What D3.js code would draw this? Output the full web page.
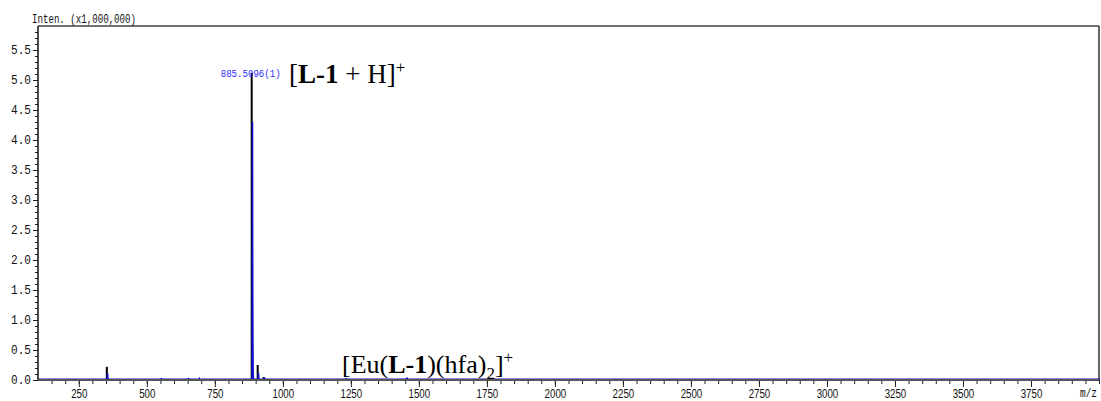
<!DOCTYPE html>
<html>
<head>
<meta charset="utf-8">
<script src="https://cdn.jsdelivr.net/npm/d3@7"></script>
<style>
  html, body { margin: 0; padding: 0; background: #fff; }
  svg { display: block; }
</style>
</head>
<body>
<svg id="chart" width="1101" height="401"></svg>
<script>
// Mass spectrum: intensity (x1,000,000) versus m/z
const mzDomain = [100, 4000];
const intDomain = [0, 5.9];

// Centroid peaks (black sticks)
const centroidMz  = [353.0, 885.5096, 907.5, 929.5, 1454.0];
const centroidInt = [0.22, 5.12, 0.25, 0.05, 0.03];

// Profile trace (blue), including isotope peaks and small baseline features
const profileMz  = [100, 351.5, 352.5, 353.0, 353.5, 354.5, 549, 550, 551, 649, 650, 651, 689, 690, 691,
                    884.0, 885.0, 885.5, 886.0, 886.5, 887.0, 887.5, 888.0, 889.0,
                    906.5, 907.5, 908.5, 928.5, 929.5, 930.5, 1230, 1231, 1232, 1453, 1454, 1455, 4000];
const profileInt = [0.01, 0.01, 0.05, 0.11, 0.05, 0.01, 0.01, 0.03, 0.01, 0.01, 0.03, 0.01, 0.01, 0.02, 0.01,
                    0.01, 2.10, 4.30, 2.00, 1.25, 0.60, 0.33, 0.10, 0.01,
                    0.01, 0.12, 0.01, 0.01, 0.04, 0.01, 0.01, 0.03, 0.01, 0.01, 0.04, 0.01, 0.01];

// Axis ticks
const xMajorTicks = [250, 500, 750, 1000, 1250, 1500, 1750, 2000, 2250, 2500, 2750, 3000, 3250, 3500, 3750];
const yMajorTicks = [0.0, 0.5, 1.0, 1.5, 2.0, 2.5, 3.0, 3.5, 4.0, 4.5, 5.0, 5.5];

const peakLabel = "885.5096(1)";

const svg = d3.select("#chart");
const plotLeft = 38, plotRight = 1099, plotTop = 26, plotBottom = 380;

const x = d3.scaleLinear().domain(mzDomain).range([plotLeft, plotRight]);
const y = d3.scaleLinear().domain(intDomain).range([plotBottom, plotTop]);

const monoFont = "'Liberation Mono', 'DejaVu Sans Mono', monospace";
const narrowFont = "'Liberation Sans Narrow', 'Liberation Sans', Arial, sans-serif";
const serifFont = "'Liberation Serif', 'Times New Roman', serif";

// Frame: top and right borders
svg.append("line").attr("x1", plotLeft).attr("x2", plotRight).attr("y1", plotTop).attr("y2", plotTop)
  .attr("stroke", "#707070").attr("stroke-width", 2);
svg.append("line").attr("x1", plotRight).attr("x2", plotRight).attr("y1", plotTop).attr("y2", plotBottom)
  .attr("stroke", "#333").attr("stroke-width", 1.5);

// Y axis: major ticks every 0.5, minor every 0.1
const yMinor = d3.range(0, 59).map(i => i / 10);
const yAxisMinor = d3.axisLeft(y).tickValues(yMinor).tickSize(3).tickFormat("");
const yAxisMajor = d3.axisLeft(y).tickValues(yMajorTicks).tickSize(5).tickPadding(2)
  .tickFormat(d3.format(".1f"));

const gyMinor = svg.append("g").attr("transform", `translate(${plotLeft},0)`).call(yAxisMinor);
gyMinor.select(".domain").remove();
gyMinor.selectAll("line").attr("stroke", "#222");

const gy = svg.append("g").attr("transform", `translate(${plotLeft},0)`).call(yAxisMajor);
gy.select(".domain").remove();
gy.selectAll("line").attr("stroke", "#222");
gy.selectAll("text").attr("font-family", monoFont).attr("font-size", 12).attr("fill", "#111")
  .attr("textLength", 20).attr("lengthAdjust", "spacingAndGlyphs");

svg.append("line").attr("x1", plotLeft).attr("x2", plotLeft).attr("y1", plotTop).attr("y2", plotBottom + 1)
  .attr("stroke", "#111").attr("stroke-width", 1.5);

// X axis: major ticks every 250, minor every 50
const xMinor = d3.range(150, 4001, 50);
const xAxisMinor = d3.axisBottom(x).tickValues(xMinor).tickSize(4).tickFormat("");
const xAxisMajor = d3.axisBottom(x).tickValues(xMajorTicks).tickSize(7).tickPadding(2).tickFormat(d3.format("d"));

const gxMinor = svg.append("g").attr("transform", `translate(0,${plotBottom})`).call(xAxisMinor);
gxMinor.select(".domain").remove();
gxMinor.selectAll("line").attr("stroke", "#222");

const gx = svg.append("g").attr("transform", `translate(0,${plotBottom})`).call(xAxisMajor);
gx.select(".domain").remove();
gx.selectAll("line").attr("stroke", "#222");
gx.selectAll("text")
  .attr("font-family", narrowFont).attr("font-size", 12).attr("fill", "#111")
  .attr("dy", "0.71em")
  .attr("textLength", d => String(d).length * 5.4)
  .attr("lengthAdjust", "spacingAndGlyphs");

// Centroid sticks (black)
svg.append("g").selectAll("line")
  .data(centroidMz.map((m, i) => ({ mz: m, v: centroidInt[i] })))
  .join("line")
  .attr("x1", d => x(d.mz)).attr("x2", d => x(d.mz))
  .attr("y1", y(0)).attr("y2", d => y(d.v))
  .attr("stroke", "#000").attr("stroke-width", 2);

// Profile trace (blue)
const profile = profileMz.map((m, i) => ({ mz: m, v: profileInt[i] }));
svg.append("path")
  .datum(profile)
  .attr("d", d3.line().x(d => x(d.mz) + 0.8).y(d => y(d.v)))
  .attr("fill", "none").attr("stroke", "#1010d0").attr("stroke-width", 1.6);

// Bottom axis line
svg.append("line").attr("x1", plotLeft).attr("x2", plotRight).attr("y1", plotBottom).attr("y2", plotBottom)
  .attr("stroke", "#555").attr("stroke-width", 2);

// Axis titles
svg.append("text").attr("x", 32).attr("y", 23)
  .attr("font-family", monoFont).attr("font-size", 12).attr("fill", "#111")
  .attr("textLength", 104).attr("lengthAdjust", "spacingAndGlyphs")
  .text("Inten. (x1,000,000)");
svg.append("text").attr("x", 1097).attr("y", 397).attr("text-anchor", "end")
  .attr("font-family", monoFont).attr("font-size", 12).attr("fill", "#111")
  .attr("textLength", 17).attr("lengthAdjust", "spacingAndGlyphs")
  .text("m/z");

// Peak m/z label (blue), centred on the base peak
const basePeakMz = centroidMz[1];
svg.append("text").attr("x", x(basePeakMz) - 1).attr("y", 77).attr("text-anchor", "middle")
  .attr("font-family", monoFont).attr("font-size", 10).attr("fill", "#2f2fff")
  .attr("textLength", 60).attr("lengthAdjust", "spacingAndGlyphs")
  .text(peakLabel);

// Ion assignments
const t1 = svg.append("text").attr("x", 289).attr("y", 83)
  .attr("font-family", serifFont).attr("font-size", 27).attr("fill", "#000");
t1.append("tspan").text("[");
t1.append("tspan").attr("font-weight", "bold").text("L-1");
t1.append("tspan").text(" + H]");
t1.append("tspan").attr("font-size", 17).attr("dy", -10).text("+");

const t2 = svg.append("text").attr("x", 342).attr("y", 373)
  .attr("font-family", serifFont).attr("font-size", 26).attr("fill", "#000");
t2.append("tspan").text("[Eu(");
t2.append("tspan").attr("font-weight", "bold").text("L-1");
t2.append("tspan").text(")(hfa)");
t2.append("tspan").attr("font-size", 17).attr("dy", 6).text("2");
t2.append("tspan").attr("dy", -6).text("]");
t2.append("tspan").attr("font-size", 17).attr("dy", -10).text("+");
</script>
</body>
</html>
